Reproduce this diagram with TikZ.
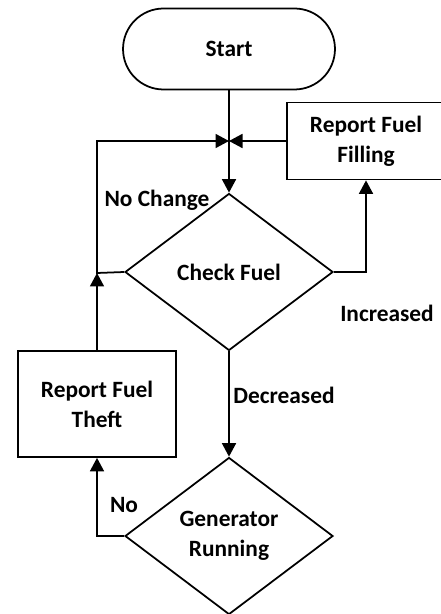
\documentclass[tikz,border=0pt]{standalone}
\usepackage{fontspec}
\setmainfont{Carlito}
\usetikzlibrary{arrows.meta, shapes.geometric}

\tikzset{
  flow/.style={line width=1pt, -{Triangle[length=0.27cm, width=0.28cm]}},
  block/.style={draw, line width=1pt, align=center, minimum width=3.16cm},
  decision/.style={draw, diamond, line width=1pt, aspect=1.33, align=center, inner sep=0pt,
      minimum width=4.16cm, minimum height=3.14cm},
  lbl/.style={inner sep=0pt}
}

\begin{document}
\begin{tikzpicture}[x=0.02cm, y=-0.02cm, font=\fontsize{13.3}{17}\selectfont\bfseries]
    \useasboundingbox (0,0) rectangle (440,614);
    % Start
    \node[draw, line width=1pt, rounded corners=0.81cm, minimum width=4.24cm, minimum height=1.62cm]
      (start) at (229,49) {Start};
    % Check Fuel
    \coordinate (merge) at (229,141);
    \node[decision] (check) at (229,272) {Check Fuel};
    \node[block, minimum height=1.54cm] (filling) at (366,141) {Report Fuel\\Filling};
    \draw[flow] (start.south) -- (check.north);
    \draw[flow] (filling.west) -- (merge);
    \draw[flow] (check.east) -| (filling.south);
    \node[lbl] (inc) at (387,313) {Increased};
    % No Change
    \node[block, minimum height=2.12cm] (theft) at (97,404) {Report Fuel\\Theft};
    \coordinate (bend) at (97,273);
    \draw[flow] (theft.north) -- (bend);
    \draw[flow] (check.west) -- (bend) |- (merge);
    \node[lbl] (nochange) at (157,200) {No Change};
    % Generator Running
    \node[decision] (gen) at (229,536) {Generator\\Running};
    \draw[flow] (check.south) -- (gen.north);
    \node[lbl, anchor=west] (dec) at (233,395) {Decreased};
    \draw[flow] (gen.west) -| (theft.south);
    \node[lbl] (no) at (124,505) {No};
\end{tikzpicture}
\end{document}
